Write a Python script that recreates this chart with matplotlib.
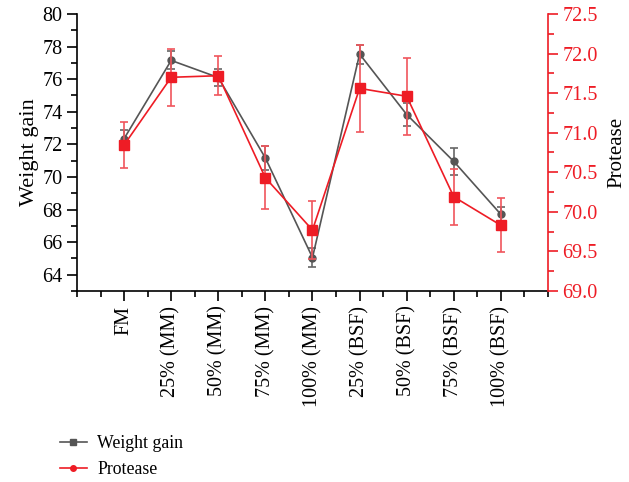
import matplotlib
matplotlib.use("Agg")
import matplotlib.pyplot as plt
from matplotlib.lines import Line2D
from matplotlib.ticker import MultipleLocator

plt.rcParams['font.family'] = ['Liberation Serif', 'DejaVu Serif']

categories = ["FM", "25% (MM)", "50% (MM)", "75% (MM)", "100% (MM)",
              "25% (BSF)", "50% (BSF)", "75% (BSF)", "100% (BSF)"]
weight_gain = [72.35, 77.15, 76.1, 71.16, 65.05, 77.54, 73.83, 70.95, 67.7]
weight_err = [0.5, 0.55, 0.5, 0.75, 0.6, 0.58, 0.7, 0.82, 0.48]
protease = [70.845, 71.70, 71.72, 70.43, 69.77, 71.56, 71.46, 70.19, 69.83]
protease_err = [0.29, 0.36, 0.25, 0.4, 0.37, 0.55, 0.49, 0.35, 0.34]

GRAY = "#555555"
RED = "#ee1c25"

fig = plt.figure(figsize=(6.29, 4.82), dpi=100)
ax = fig.add_axes([0.1224, 0.3963, 0.7488, 0.5747])
ax2 = ax.twinx()

x = list(range(1, len(categories) + 1))

ax.errorbar(x, weight_gain, yerr=weight_err, color=GRAY, marker='o', ms=5,
            lw=1.2, capsize=3, elinewidth=1.2, capthick=1.2, ecolor="#666666")
ax2.errorbar(x, protease, yerr=protease_err, color=RED, marker='s', ms=7,
             lw=1.2, capsize=3, elinewidth=1.2, capthick=1.2, ecolor="#f0555c")

ax.set_xlim(0, 10)
ax.set_ylim(63, 80)
ax2.set_ylim(69, 72.5)

ax.set_xticks(x)
ax.set_xticklabels(categories, rotation=90, fontsize=14.5)
ax.xaxis.set_minor_locator(MultipleLocator(0.5))
ax.yaxis.set_minor_locator(MultipleLocator(1))
ax.set_yticks([64, 66, 68, 70, 72, 74, 76, 78, 80])
ax2.yaxis.set_major_locator(MultipleLocator(0.5))
ax2.yaxis.set_minor_locator(MultipleLocator(0.25))
ax2.yaxis.set_major_formatter(matplotlib.ticker.FormatStrFormatter('%.1f'))

for a in (ax, ax2):
    a.spines['top'].set_visible(False)
    a.tick_params(which='major', direction='out', length=7, width=1.2, labelsize=14.5)
    a.tick_params(which='minor', direction='out', length=4, width=1.2)

ax.spines['right'].set_visible(False)
ax2.spines['left'].set_visible(False)
ax2.spines['bottom'].set_visible(False)
for s in ('left', 'bottom'):
    ax.spines[s].set_linewidth(1.2)
ax2.spines['right'].set_color(RED)
ax2.spines['right'].set_linewidth(1.2)
ax2.tick_params(axis='y', which='both', colors=RED, labelcolor=RED)

ax.set_ylabel("Weight gain", fontsize=16, labelpad=2)
ax2.set_ylabel("Protease", fontsize=15, labelpad=7)

handles = [
    Line2D([], [], color=GRAY, marker='s', ms=5, lw=1.2),
    Line2D([], [], color=RED, marker='o', ms=4, lw=1.2),
]
fig.legend(handles, ["Weight gain", "Protease"], loc='upper left',
           bbox_to_anchor=(0.07, 0.13), frameon=False, fontsize=12.8,
           handlelength=1.5, handletextpad=0.6, labelspacing=0.5)

fig.savefig("out.png", dpi=100)
